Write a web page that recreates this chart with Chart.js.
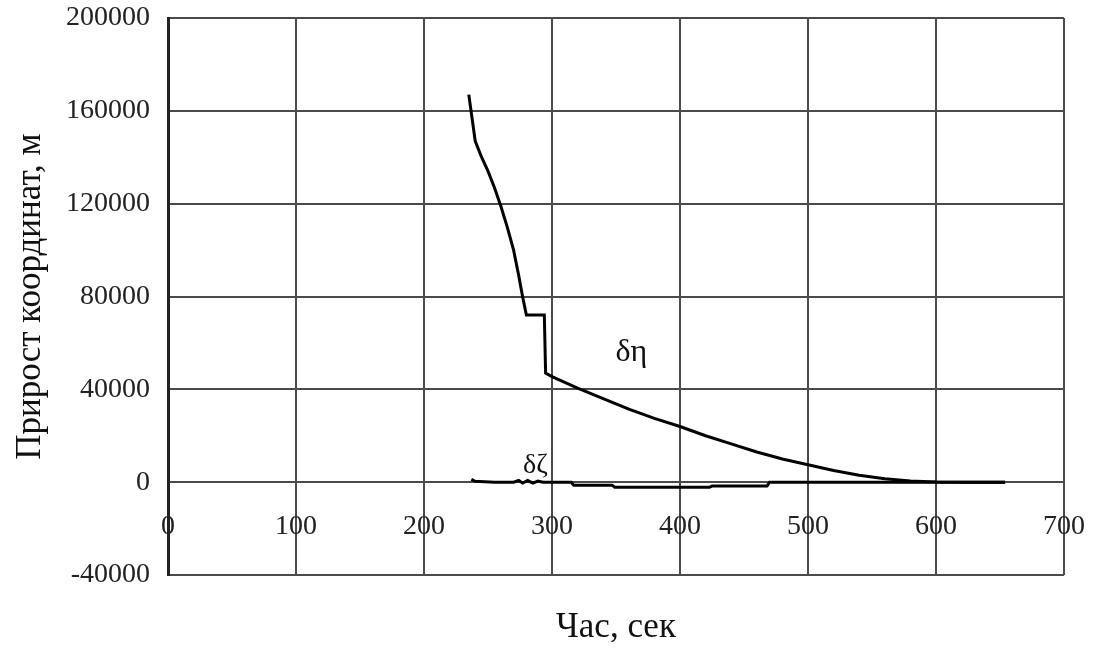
<!DOCTYPE html>
<html>
<head>
<meta charset="utf-8">
<script src="https://cdn.jsdelivr.net/npm/chart.js@4/dist/chart.umd.min.js"></script>
<style>
  html, body { margin: 0; padding: 0; background: #fff; }
  #wrap { width: 1104px; height: 655px; }
</style>
</head>
<body>
<div id="wrap"><canvas id="chart"></canvas></div>
<script>
  // δη: time (s) and coordinate increment (m)
  const etaTime = [235, 240, 245, 250, 255, 260, 265, 270, 274, 277, 280, 287, 294, 295, 300, 320, 340, 360, 380, 400, 420, 440, 460, 480, 500, 520, 540, 560, 580, 600, 620, 654];
  const etaVals = [167000, 147000, 140000, 134000, 127000, 119000, 110000, 100000, 89000, 80000, 72000, 72000, 72000, 47000, 45500, 40500, 36000, 31500, 27500, 24000, 20000, 16500, 13000, 10000, 7500, 5000, 3000, 1500, 500, 100, 0, 0];

  // δζ
  const zetaTime = [237, 240, 255, 270, 274, 277, 281, 285, 289, 293, 315, 317, 347, 349, 423, 425, 468, 470, 654];
  const zetaVals = [1200, 400, 0, 0, 800, -400, 700, -400, 500, 0, 0, -1300, -1300, -2200, -2200, -1700, -1700, 0, 0];

  const xTicks = [0, 100, 200, 300, 400, 500, 600, 700];
  const yTicks = [-40000, 0, 40000, 80000, 120000, 160000, 200000];

  const seriesLabels = ['δη', 'δζ'];
  const xTitle = 'Час, сек';
  const yTitle = 'Прирост координат, м';

  const SERIF = "'Liberation Serif', 'Times New Roman', serif";

  const toPoints = (xs, ys) => xs.map((x, i) => ({ x: x, y: ys[i] }));

  // labels next to the curves
  const curveLabels = {
    id: 'curveLabels',
    afterDatasetsDraw(chart) {
      const { ctx, scales: { x, y } } = chart;
      ctx.save();
      ctx.fillStyle = '#111';
      ctx.font = '32px ' + SERIF;
      ctx.textAlign = 'center';
      ctx.textBaseline = 'middle';
      ctx.fillText(seriesLabels[0], x.getPixelForValue(362), y.getPixelForValue(56000));
      ctx.font = '28px ' + SERIF;
      ctx.fillText(seriesLabels[1], x.getPixelForValue(287), y.getPixelForValue(7000));
      ctx.restore();
    }
  };

  const gridColor = '#4a4a4a';

  new Chart(document.getElementById('chart'), {
    type: 'line',
    data: {
      datasets: [{
        label: seriesLabels[0],
        data: toPoints(etaTime, etaVals),
        borderColor: '#000',
        borderWidth: 3,
        pointRadius: 0,
        tension: 0
      }, {
        label: seriesLabels[1],
        data: toPoints(zetaTime, zetaVals),
        borderColor: '#000',
        borderWidth: 3,
        pointRadius: 0,
        tension: 0
      }]
    },
    options: {
      responsive: true,
      maintainAspectRatio: false,
      animation: false,
      layout: { padding: { left: 8, right: 40, top: 18, bottom: 0 } },
      scales: {
        x: {
          type: 'linear',
          position: { y: 0 },
          min: 0,
          max: 700,
          afterBuildTicks: (s) => { s.ticks = xTicks.map(v => ({ value: v })); },
          afterFit: (s) => { s.height = 0; s.paddingLeft = 0; s.paddingRight = 0; s.paddingTop = 0; s.paddingBottom = 0; },
          grid: { color: gridColor, lineWidth: 2, drawTicks: false },
          border: { color: gridColor, width: 2 },
          ticks: {
            color: '#222',
            padding: 28,
            maxRotation: 0,
            font: { family: SERIF, size: 28 },
            callback: (v) => String(v)
          }
        },
        y: {
          min: -40000,
          max: 200000,
          afterBuildTicks: (s) => { s.ticks = yTicks.map(v => ({ value: v })); },
          afterFit: (s) => { s.width = 160; s.paddingTop = 0; s.paddingBottom = 0; },
          grid: { color: gridColor, lineWidth: 2, drawTicks: false },
          border: { color: '#222', width: 3 },
          ticks: {
            color: '#222',
            padding: 18,
            font: { family: SERIF, size: 28 },
            callback: (v) => String(v)
          },
          title: {
            display: true,
            text: yTitle,
            color: '#111',
            padding: { top: 2, bottom: 0 },
            font: { family: SERIF, size: 35 }
          }
        }
      },
      plugins: {
        legend: { display: false },
        tooltip: { enabled: false },
        title: {
          display: true,
          position: 'bottom',
          fullSize: false,
          text: xTitle,
          color: '#111',
          padding: { top: 32, bottom: 6 },
          font: { family: SERIF, size: 35, weight: 'normal' }
        }
      }
    },
    plugins: [curveLabels]
  });
</script>
</body>
</html>
